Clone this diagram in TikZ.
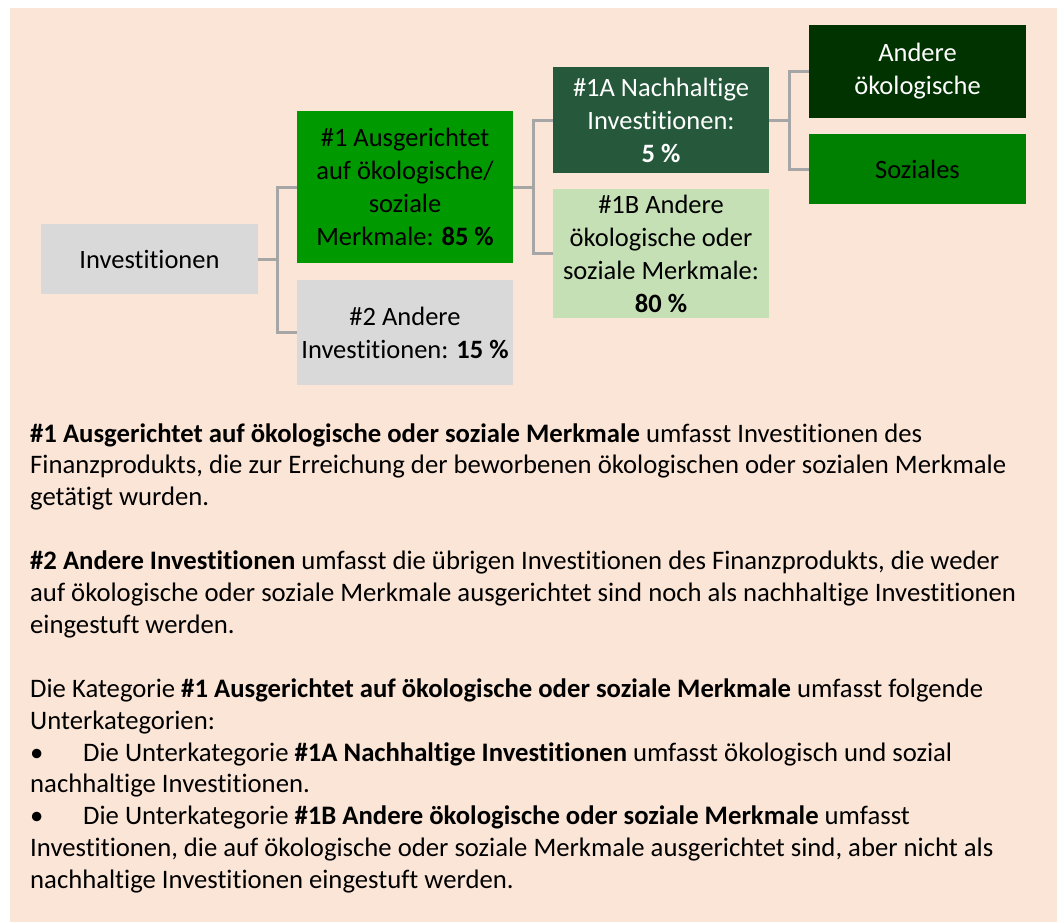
\documentclass[tikz,border=0pt]{standalone}
\usepackage{fontspec}
\setmainfont{Carlito}[Ligatures=NoCommon]
\definecolor{bgbeige}{HTML}{FBE5D6}
\definecolor{boxgray}{HTML}{D9D9D9}
\definecolor{greenA}{HTML}{009900}
\definecolor{greenDark}{HTML}{26593B}
\definecolor{greenLight}{HTML}{C5E0B4}
\definecolor{greenDeep}{HTML}{003300}
\definecolor{greenMid}{HTML}{008000}
\definecolor{connGray}{HTML}{A6A6A6}
\begin{document}
\begin{tikzpicture}[x=1pt,y=-1pt,
  box/.style={inner sep=0pt, align=center, minimum width=216pt,
    font=\fontsize{26.5}{33}\selectfont},
  conn/.style={draw=connGray, line width=3pt},
  bodyline/.style={anchor=base west, inner sep=0pt,
    font=\fontsize{26.7}{31.9}\selectfont}]
\useasboundingbox (0,0) rectangle (1064,922);
\fill[bgbeige] (10,8) rectangle (1057,922);

% boxes
\node[box, fill=boxgray, minimum width=217pt, minimum height=70pt] (inv) at (149.5,259) {Investitionen};
\node[box, fill=greenA, minimum height=152pt] (b1) at (405,187)
  {\#1 Ausgerichtet\\auf ökologische/\\soziale\\Merkmale: \textbf{85 \%}};
\node[box, fill=boxgray, minimum height=105pt] (b2) at (405,332.5)
  {\#2 Andere\\Investitionen: \textbf{15 \%}};
\node[box, fill=greenDark, text=white, minimum height=106pt] (b1a) at (661,120)
  {\#1A Nachhaltige\\Investitionen:\\\textbf{5 \%}};
\node[box, fill=greenLight, minimum height=129pt] (b1b) at (661,253.5)
  {\#1B Andere\\ökologische oder\\soziale Merkmale:\\\textbf{80 \%}};
\node[box, fill=greenDeep, text=white, minimum width=217pt, minimum height=93pt] (oeko) at (917.5,71.5)
  {Andere\\ökologische};
\node[box, fill=greenMid, minimum width=217pt, minimum height=70pt] (soz) at (917.5,169) {Soziales};

% connectors
\coordinate (j1) at (277,0);
\coordinate (j2) at (533,0);
\coordinate (j3) at (789,0);
\draw[conn] (inv.east) -- (inv.east -| j1) |- (b1.west);
\draw[conn] (inv.east -| j1) |- (b2.west);
\draw[conn] (b1.east) -- (b1.east -| j2) |- (b1a.west);
\draw[conn] (b1.east -| j2) |- (b1b.west);
\draw[conn] (b1a.east) -- (b1a.east -| j3) |- (oeko.west);
\draw[conn] (b1a.east -| j3) |- (soz.west);

% explanatory text
\node[bodyline] (t1) at (30,442.0) {\textbf{\#1 Ausgerichtet auf ökologische oder soziale Merkmale} umfasst Investitionen des};
\node[bodyline] (t2) at (30,473.9) {Finanzprodukts, die zur Erreichung der beworbenen ökologischen oder sozialen Merkmale};
\node[bodyline] (t3) at (30,505.8) {getätigt wurden.};
\node[bodyline] (t4) at (30,569.6) {\textbf{\#2 Andere Investitionen} umfasst die übrigen Investitionen des Finanzprodukts, die weder};
\node[bodyline] (t5) at (30,601.5) {auf ökologische oder soziale Merkmale ausgerichtet sind noch als nachhaltige Investitionen};
\node[bodyline] (t6) at (30,633.4) {eingestuft werden.};
\node[bodyline] (t7) at (30,697.2) {Die Kategorie \textbf{\#1 Ausgerichtet auf ökologische oder soziale Merkmale} umfasst folgende};
\node[bodyline] (t8) at (30,729.1) {Unterkategorien:};
\node[bodyline] (t9) at (30,761.0) {\makebox[53pt][l]{•}Die Unterkategorie \textbf{\#1A Nachhaltige Investitionen} umfasst ökologisch und sozial};
\node[bodyline] (t10) at (30,792.9) {nachhaltige Investitionen.};
\node[bodyline] (t11) at (30,824.8) {\makebox[53pt][l]{•}Die Unterkategorie \textbf{\#1B Andere ökologische oder soziale Merkmale} umfasst};
\node[bodyline] (t12) at (30,856.7) {Investitionen, die auf ökologische oder soziale Merkmale ausgerichtet sind, aber nicht als};
\node[bodyline] (t13) at (30,888.6) {nachhaltige Investitionen eingestuft werden.};
\end{tikzpicture}
\end{document}
